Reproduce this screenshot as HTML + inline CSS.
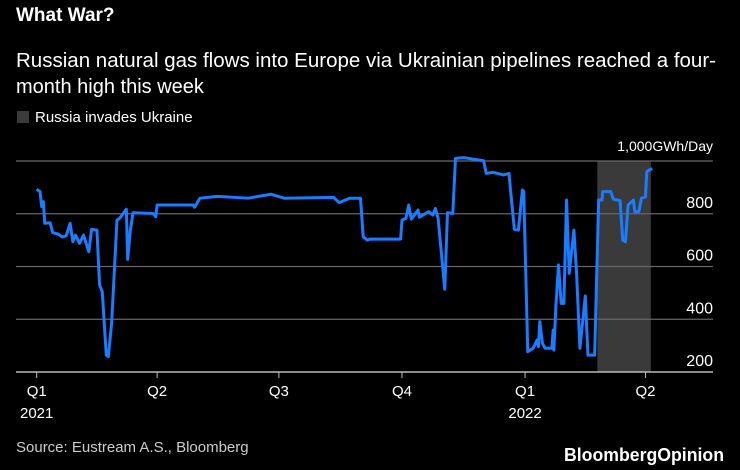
<!DOCTYPE html>
<html><head><meta charset="utf-8"><style>
body{margin:0;background:#000;width:740px;height:470px;overflow:hidden;font-family:"Liberation Sans",sans-serif;color:#fff}
</style></head><body>
<svg width="740" height="470" style="position:absolute;left:0;top:0">
<text x="16" y="21" font-size="19" font-weight="bold" fill="#fff">What War?</text>
<text x="16" y="67" font-size="20" fill="#fff" textLength="700" lengthAdjust="spacingAndGlyphs">Russian natural gas flows into Europe via Ukrainian pipelines reached a four-</text>
<text x="16" y="93" font-size="20" fill="#fff">month high this week</text>
<rect x="17" y="111" width="12" height="12" fill="#3a3a3a"/>
<text x="35" y="122" font-size="15" fill="#fff">Russia invades Ukraine</text>
<g id="plot"></g>
<text x="16" y="452" font-size="15" fill="#ccc">Source: Eustream A.S., Bloomberg</text>
<text x="724" y="461" font-size="18" font-weight="bold" fill="#fff" text-anchor="end" textLength="160" lengthAdjust="spacingAndGlyphs">BloombergOpinion</text>
</svg>
<script>
const days=[0,2.5,3.7,5,6,10,12,16,19,22,25,27,29,32,35,39,41,45,47,49,52,53.5,56,60,62,67,68,70,72,87,89,90,117,118,122,135,158,175,185,222,226,234,242,244,247,249,272,273,276,278,280,285,286,293,296,298,300,305,307,311,313,319,334,336,341,349,353,354,357,360,363,364,367,371,374,375,376,378,380,385,386,386.5,388,390,392,394,396,398,401.5,403.5,406,410,412,417,420,422.5,423,429,431,436,438,440,442,446,447,450,452,455,456,460];
const flows=[893,884,827,846,764,766,728,723,712,716,764,694,719,688,719,656,741,738,530,504,264,258,385,776,783,817,627,738,804,801,789,833,833,825,859,866,859,874,859,862,842,859,859,713,700,704,704,776,783,833,779,814,787,808,795,820,783,514,804,801,1010,1013,1001,953,957,947,953,896,741,738,890,884,277,290,321,296,391,309,290,290,359,283,448,606,460,460,852,574,738,574,290,488,264,264,852,852,884,884,855,850,700,694,833,852,808,808,859,864,960,972];
const yTicks=[200,400,600,800,1000];
const yTickLabels=["200","400","600","800","1,000GWh/Day"];
const qDays=[0,90,181,273,365,455];
const qLabels=["Q1","Q2","Q3","Q4","Q1","Q2"];
const yearLabels=["2021","","","","2022",""];
const shadeStart=419, shadeEnd=459;
const NS="http://www.w3.org/2000/svg";
const g=document.getElementById('plot');
const X=d=>36.7+d*1.338;
const Y=v=>372-(v-200)/200*52.75;
function mk(t,a){const e=document.createElementNS(NS,t);for(const k in a)e.setAttribute(k,a[k]);g.appendChild(e);return e;}
const sh=mk('rect',{x:X(shadeStart),y:Y(1000),width:X(shadeEnd)-X(shadeStart),height:Y(200)-Y(1000),fill:'#3a3a3a'});


yTicks.forEach((v,i)=>{
 const l=mk('line',{x1:16,x2:713,y1:Y(v),y2:Y(v),stroke:i==0?'#bbb':'#666','stroke-width':i==0?1.5:1.2});
 
 
 const t=mk('text',{x:713,y:Y(v)-(i==4?10:6),'text-anchor':'end','font-size':i==4?14:16,fill:'#fff'});
 t.textContent=yTickLabels[i];
 
 
});
qDays.forEach((d,i)=>{
 const tk=mk('line',{x1:X(d),x2:X(d),y1:372,y2:378,stroke:'#bbb','stroke-width':1});
 
 
 const t=mk('text',{x:X(d),y:396,'text-anchor':'middle','font-size':15,fill:'#fff'});
 t.textContent=qLabels[i];
 
 
 if(yearLabels[i]){const y=mk('text',{x:X(d),y:418,'text-anchor':'middle','font-size':15,fill:'#fff'});
 y.textContent=yearLabels[i];
 
 }
});
const p=mk('polyline',{points:days.map((d,i)=>X(d)+','+Y(flows[i])).join(' '),fill:'none',stroke:'#1a7cff','stroke-width':3,'stroke-linejoin':'round'});


</script>
</body></html>
